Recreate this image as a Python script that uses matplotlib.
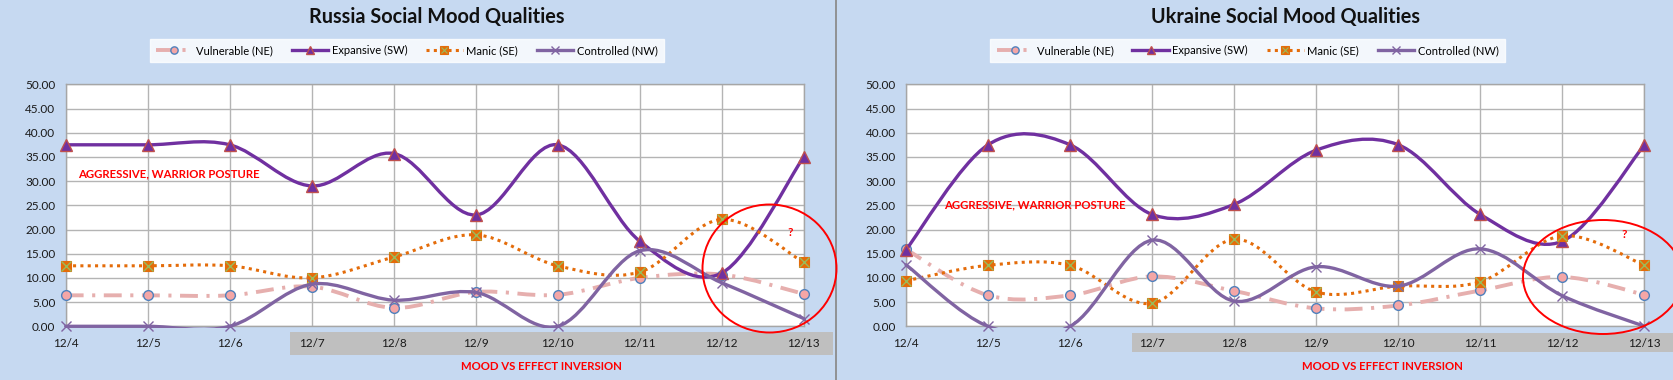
import matplotlib
matplotlib.use("Agg")
import matplotlib.pyplot as plt
from matplotlib.path import Path
from matplotlib.patches import PathPatch, Rectangle, Ellipse
from matplotlib.lines import Line2D

plt.rcParams['font.family'] = ['Lato', 'DejaVu Sans']

# ---------------------------------------------------------
# Data
# ---------------------------------------------------------
dates = ["12/4", "12/5", "12/6", "12/7", "12/8", "12/9", "12/10", "12/11", "12/12", "12/13"]
y_ticks = [0, 5, 10, 15, 20, 25, 30, 35, 40, 45, 50]
series_names = ["Vulnerable (NE)", "Expansive (SW)", "Manic (SE)", "Controlled (NW)"]

russia_vulnerable = [6.4, 6.4, 6.4, 8.2, 3.8, 7.1, 6.5, 10.0, 10.7, 6.7]
russia_expansive = [37.5, 37.5, 37.5, 29.0, 35.7, 23.0, 37.5, 17.6, 11.0, 35.0]
russia_manic = [12.5, 12.5, 12.5, 10.0, 14.3, 18.9, 12.5, 11.2, 22.1, 13.2]
russia_controlled = [0.0, 0.0, 0.0, 8.7, 5.4, 7.0, 0.0, 15.6, 9.0, 1.6]

ukraine_vulnerable = [15.9, 6.4, 6.4, 10.3, 7.3, 3.7, 4.3, 7.4, 10.2, 6.5]
ukraine_expansive = [15.8, 37.5, 37.5, 23.1, 25.2, 36.4, 37.5, 23.1, 17.6, 37.5]
ukraine_manic = [9.4, 12.6, 12.6, 4.75, 18.0, 7.1, 8.3, 9.2, 18.7, 12.6]
ukraine_controlled = [12.7, 0.0, 0.0, 17.8, 5.2, 12.3, 8.3, 16.0, 6.3, 0.0]

W, H = 1674, 380
BG = "#C6D9F1"


def fx(x):
    return x / W


def fy(y):
    return 1 - y / H


# ---------------------------------------------------------
# Excel-style smoothed line (Catmull-Rom bezier through the points)
# ---------------------------------------------------------
def smooth_path(ys):
    pts = list(zip(range(len(ys)), ys))
    n = len(pts)
    verts = [pts[0]]
    codes = [Path.MOVETO]
    for i in range(n - 1):
        p0 = pts[max(i - 1, 0)]
        p1 = pts[i]
        p2 = pts[i + 1]
        p3 = pts[min(i + 2, n - 1)]
        c1 = (p1[0] + (p2[0] - p0[0]) / 6, p1[1] + (p2[1] - p0[1]) / 6)
        c2 = (p2[0] - (p3[0] - p1[0]) / 6, p2[1] - (p3[1] - p1[1]) / 6)
        verts += [c1, c2, p2]
        codes += [Path.CURVE4] * 3
    return Path(verts, codes)


styles = [
    dict(color="#E6AFAE", lw=2.8, ls=(0, (4.6, 2.2, 0.8, 2.2)), cap="butt",
         marker="o", ms=7, mfc="#F4A6A6", mec="#4F81BD", mew=1.0),
    dict(color="#7030A0", lw=2.4, ls="-", cap="round",
         marker="^", ms=8.5, mfc="#7030A0", mec="#C0504D", mew=1.0),
    dict(color="#E46C0A", lw=2.2, ls=(0, (1, 1.4)), cap="butt",
         marker="s", ms=7.5, mfc="#E46C0A", mec="#E46C0A", mew=0.8),
    dict(color="#8064A2", lw=2.4, ls="-", cap="round",
         marker="x", ms=7, mfc="#8064A2", mec="#8064A2", mew=1.0),
]


def draw_panel(rect, title, title_x, legend_x, values, band, note_xy, ell, q_xy, inv_x):
    ax = fig.add_axes(rect)
    ax.set_facecolor("white")
    ax.set_xlim(0, len(dates) - 1)
    ax.set_ylim(0, 50)
    ax.set_xticks(range(len(dates)))
    ax.set_xticklabels(dates)
    ax.set_yticks(y_ticks)
    ax.set_yticklabels(["%.2f" % v for v in y_ticks])
    ax.tick_params(length=0, labelsize=8.5, labelcolor="#1a1a1a")
    ax.tick_params(axis="x", pad=8.5)
    ax.tick_params(axis="y", pad=7.5)
    ax.grid(True, color="#B4B4B4", lw=1.0)
    ax.set_axisbelow(True)
    for s in ax.spines.values():
        s.set_color("#A6A6A6")
        s.set_linewidth(1.0)

    # lines are clipped just outside the plot area, as Excel does
    clip = Rectangle((-0.01, -0.007), 1.02, 1.02, transform=ax.transAxes)

    handles = []
    for i, (ys, st) in enumerate(zip(values, styles)):
        patch = PathPatch(smooth_path(ys), fill=False, edgecolor=st["color"],
                          lw=st["lw"], linestyle=st["ls"], zorder=3 + i)
        patch.set_capstyle(st["cap"])
        ax.add_patch(patch)
        patch.set_clip_path(clip)
        ax.plot(range(len(ys)), ys, ls="none", marker=st["marker"], ms=st["ms"],
                mfc=st["mfc"], mec=st["mec"], mew=st["mew"], zorder=3.5 + i, clip_on=False)
        h = Line2D([], [], color=st["color"], lw=st["lw"], linestyle=st["ls"],
                   marker=st["marker"], ms=st["ms"] * 0.75, mfc=st["mfc"],
                   mec=st["mec"], mew=st["mew"])
        if st["marker"] == "s":
            ax.plot(range(len(ys)), ys, ls="none", marker="x", ms=6.5,
                    mec="#9BBB59", mew=1.0, zorder=3.6 + i, clip_on=False)
            hx = Line2D([], [], ls="none", marker="x", ms=5, mec="#9BBB59", mew=0.8)
            h = (h, hx)
        handles.append(h)

    # title and legend
    fig.text(fx(title_x), fy(17), title, ha="center", va="center",
             fontsize=14.3, fontweight="bold", color="#111111")
    leg = fig.legend(handles, series_names, loc="center", ncol=4,
                     bbox_to_anchor=(fx(legend_x), fy(50.5)), fontsize=8,
                     frameon=True, fancybox=False, handlelength=3.3,
                     columnspacing=1.7, handletextpad=0.3, borderpad=0.55)
    leg.get_frame().set_facecolor("white")
    leg.get_frame().set_edgecolor("white")

    # gray band behind the date labels
    fig.patches.append(Rectangle((fx(band[0]), fy(band[3])), fx(band[1] - band[0]),
                                 (band[3] - band[2]) / H, transform=fig.transFigure,
                                 facecolor="#BFBFBF", edgecolor="none", zorder=-1))

    # annotations
    fig.text(fx(note_xy[0]), fy(note_xy[1]), "AGGRESSIVE, WARRIOR POSTURE",
             ha="left", va="center", fontsize=8.2, fontweight="bold", color="#FF0000")
    fig.text(fx(inv_x), fy(367), "MOOD VS EFFECT INVERSION",
             ha="center", va="center", fontsize=8.2, fontweight="bold", color="#FF0000")
    fig.text(fx(q_xy[0]), fy(q_xy[1]), "?", ha="center", va="center",
             fontsize=8.5, fontweight="bold", color="#FF0000")
    fig.patches.append(Ellipse((fx(ell[0]), fy(ell[1])), ell[2] / W, ell[3] / H,
                               transform=fig.transFigure, fill=False,
                               edgecolor="#FF0000", lw=1.4, zorder=20))
    return ax


fig = plt.figure(figsize=(W / 100, H / 100), dpi=100, facecolor=BG)

draw_panel([fx(65.7), 1 - 326.3 / H, 738 / W, 242 / H], "Russia Social Mood Qualities",
           437, 406.7,
           [russia_vulnerable, russia_expansive, russia_manic, russia_controlled],
           (290, 833, 332, 355), (77.7, 174), (769.5, 268.5, 134, 128), (790, 233), 541.7)

draw_panel([fx(906), 1 - 326.3 / H, 738.5 / W, 242 / H], "Ukraine Social Mood Qualities",
           1285.5, 1247.5,
           [ukraine_vulnerable, ukraine_expansive, ukraine_manic, ukraine_controlled],
           (1132, 1674, 333, 352), (943.7, 205), (1603, 277, 160, 114), (1624.7, 234), 1382)

# panel divider
fig.add_artist(Line2D([fx(836), fx(836)], [0, 1], transform=fig.transFigure,
                      color="#8C8C8C", lw=1.3))

fig.savefig("out.png", dpi=100, facecolor=BG)
